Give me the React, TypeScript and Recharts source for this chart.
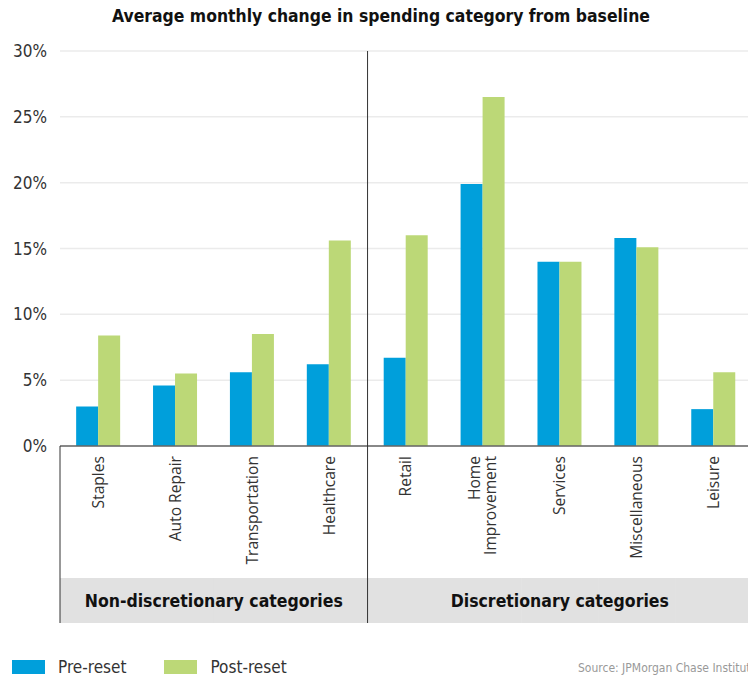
import { BarChart, Bar, XAxis, YAxis, CartesianGrid, Legend } from "recharts";

const categories = [
  "Staples",
  "Auto Repair",
  "Transportation",
  "Healthcare",
  "Retail",
  "Home Improvement",
  "Services",
  "Miscellaneous",
  "Leisure",
];
const groups = [
  "Non-discretionary categories",
  "Non-discretionary categories",
  "Non-discretionary categories",
  "Non-discretionary categories",
  "Discretionary categories",
  "Discretionary categories",
  "Discretionary categories",
  "Discretionary categories",
  "Discretionary categories",
];
const preReset = [3.0, 4.6, 5.6, 6.2, 6.7, 19.9, 14.0, 15.8, 2.8];
const postReset = [8.4, 5.5, 8.5, 15.6, 16.0, 26.5, 14.0, 15.1, 5.6];
const yTicks = [0, 5, 10, 15, 20, 25, 30];
const seriesNames = ["Pre-reset", "Post-reset"];

const data = categories.map((name, i) => ({
  name,
  group: groups[i],
  pre: preReset[i],
  post: postReset[i],
}));

const CHART_W = 752;
const CHART_H = 677;
const MARGIN = { top: 51, right: 0, bottom: 54, left: 0 };
const YAXIS_W = 60;
const LABEL_H = 132;
const BAND_H = 45;
const PLOT_W = CHART_W - MARGIN.left - MARGIN.right - YAXIS_W;
const PLOT_H = CHART_H - MARGIN.top - MARGIN.bottom - LABEL_H - BAND_H;
const HALF = PLOT_W / categories.length / 2;

const BLUE = "#009fdb";
const GREEN = "#bcd877";
const narrow = "'DejaVu Sans Condensed', 'Liberation Sans Narrow', sans-serif";

function CategoryTick(props: any) {
  const { x, y, payload } = props;
  const lines = String(payload.value) === "Home Improvement" ? ["Home", "Improvement"] : [String(payload.value)];
  const lineH = 16;
  const startY = -((lines.length - 1) * lineH) / 2;
  return (
    <g transform={`translate(${x},${y})`}>
      <text
        transform="rotate(-90)"
        textAnchor="end"
        fill="#333"
        fontSize={15.6}
        fontFamily="'Open Sans', sans-serif"
      >
        {lines.map((l, i) => (
          <tspan key={l} x={-10} y={startY + i * lineH} dy="0.35em">
            {l}
          </tspan>
        ))}
      </text>
    </g>
  );
}

function GroupTick(props: any) {
  const { x, y, index } = props;
  const g = groups[index];
  const firstOfGroup = index === 0 || groups[index - 1] !== g;
  const lastOfGroup = index === groups.length - 1 || groups[index + 1] !== g;
  const count = groups.filter((v) => v === g).length;
  return (
    <g>
      <rect x={x - HALF} y={y} width={HALF * 2 + 0.5} height={BAND_H} fill="#e1e1e1" />
      {firstOfGroup && (
        <line
          x1={x - HALF}
          x2={x - HALF}
          y1={index === 0 ? y - LABEL_H : y - LABEL_H - PLOT_H}
          y2={y + BAND_H}
          stroke="#333"
          strokeWidth={1}
        />
      )}
      {lastOfGroup && (
        <text
          x={x + HALF - count * HALF}
          y={y + BAND_H / 2}
          dy="0.35em"
          textAnchor="middle"
          fill="#111"
          fontSize={17.5}
          fontWeight="bold"
          fontFamily={narrow}
        >
          {g}
        </text>
      )}
    </g>
  );
}

function LegendContent(props: any) {
  const items = [...(props.payload || [])].sort(
    (a: any, b: any) => seriesNames.indexOf(a.value) - seriesNames.indexOf(b.value)
  );
  return (
    <div style={{ display: "flex", alignItems: "center", fontFamily: narrow, fontSize: 17, color: "#333" }}>
      {items.map((it: any) => (
        <div key={it.value} style={{ display: "flex", alignItems: "center", marginRight: 38 }}>
          <span style={{ display: "inline-block", width: 33, height: 14, background: it.color, marginRight: 13 }} />
          <span>{it.value}</span>
        </div>
      ))}
    </div>
  );
}

export default function App() {
  return (
    <div
      style={{
        position: "fixed",
        left: 0,
        top: 0,
        width: 748,
        height: 677,
        overflow: "hidden",
        background: "#fff",
      }}
    >
      <div
        style={{
          position: "absolute",
          left: 0,
          top: 6,
          width: 762,
          textAlign: "center",
          fontFamily: narrow,
          fontWeight: "bold",
          fontSize: 17.4,
          color: "#111",
        }}
      >
        Average monthly change in spending category from baseline
      </div>
      <BarChart
        width={CHART_W}
        height={CHART_H}
        data={data}
        margin={MARGIN}
        barCategoryGap="21%"
        barGap={0}
      >
        <CartesianGrid vertical={false} stroke="#ebebeb" strokeWidth={1.5} />
        <YAxis
          width={YAXIS_W}
          domain={[0, 30]}
          ticks={yTicks}
          tickFormatter={(v) => `${v}%`}
          axisLine={false}
          tickLine={false}
          tickSize={0}
          tickMargin={13}
          tick={{ fill: "#333", fontSize: 17, fontFamily: narrow }}
        />
        <XAxis
          dataKey="name"
          height={LABEL_H}
          interval={0}
          tickLine={false}
          tickSize={0}
          tickMargin={0}
          axisLine={{ stroke: "#666", strokeWidth: 1.5 }}
          tick={<CategoryTick />}
        />
        <XAxis
          xAxisId="group"
          dataKey="name"
          height={BAND_H}
          interval={0}
          tickLine={false}
          tickSize={0}
          tickMargin={0}
          axisLine={false}
          tick={<GroupTick />}
        />
        <Legend
          verticalAlign="middle"
          align="center"
          layout="horizontal"
          wrapperStyle={{ top: 657, left: 12, width: 400 }}
          content={<LegendContent />}
        />
        <Bar dataKey="pre" name={seriesNames[0]} fill={BLUE} isAnimationActive={false} />
        <Bar dataKey="post" name={seriesNames[1]} fill={GREEN} isAnimationActive={false} />
      </BarChart>
      <div
        style={{
          position: "absolute",
          left: 578,
          top: 661,
          whiteSpace: "nowrap",
          fontFamily: narrow,
          fontSize: 12,
          color: "#999",
        }}
      >
        Source: JPMorgan Chase Institute
      </div>
    </div>
  );
}
